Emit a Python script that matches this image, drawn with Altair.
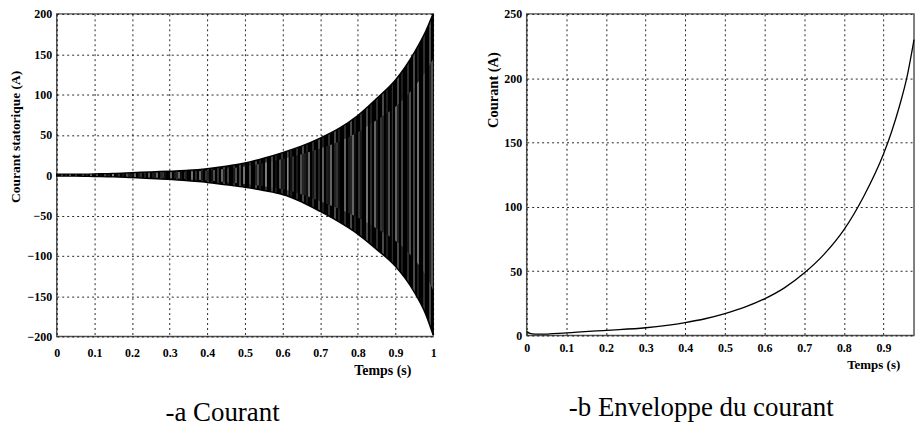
import altair as alt
import pandas as pd

# ---- Panel a: stator current (envelope of the dense oscillation)
t_a = [0.0, 0.05, 0.1, 0.15, 0.2, 0.25, 0.3, 0.35, 0.4, 0.45, 0.5, 0.55,
       0.6, 0.65, 0.7, 0.75, 0.8, 0.85, 0.9, 0.95, 0.98, 1.0]
upper_a = [1, 1, 1.5, 2, 3, 4, 5, 6, 8, 11, 15, 21,
           28, 36, 46, 58, 74, 95, 118, 152, 178, 200]
lower_a = [-1, -1, -1.5, -2, -3, -4, -5, -7, -9, -12, -15, -19,
           -24, -33, -45, -58, -73, -92, -113, -145, -172, -198]

# ---- Panel b: current envelope
t_b = [0.0, 0.01, 0.03, 0.1, 0.2, 0.3, 0.4, 0.45, 0.5, 0.55, 0.6, 0.65,
       0.7, 0.75, 0.8, 0.85, 0.9, 0.92, 0.94, 0.96, 0.977]
env_b = [3, 1.5, 1, 2, 4, 6, 10, 13, 17, 22, 28.5, 37,
         48.5, 63, 82, 108, 141, 158, 178, 202, 230]

ticks_xa = [0, 0.1, 0.2, 0.3, 0.4, 0.5, 0.6, 0.7, 0.8, 0.9, 1.0]
ticks_xb = [0, 0.1, 0.2, 0.3, 0.4, 0.5, 0.6, 0.7, 0.8, 0.9]
ticks_ya = [-200, -150, -100, -50, 0, 50, 100, 150, 200]
ticks_yb = [0, 50, 100, 150, 200, 250]

SERIF = "Liberation Serif, Times New Roman, serif"
ax = dict(labelFont=SERIF, labelFontWeight="bold", labelFontSize=12,
          labelColor="black", labelOverlap=False, labelFlush=False,
          titleFont=SERIF, titleFontWeight="bold", titleColor="black",
          grid=True, gridColor="black", gridDash=[2, 3], gridWidth=1,
          gridOpacity=0.85, domain=False, ticks=False)


def stripes(n, colors):
    """Vertical stripe texture (style only) for the dense oscillation band."""
    stops = []
    k = len(colors)
    for i in range(n):
        c = colors[i % k]
        a = i / n
        b = (i + 1) / n
        stops += [alt.GradientStop(offset=a, color=c),
                  alt.GradientStop(offset=b - 0.00005, color=c)]
    return alt.LinearGradient(gradient="linear", stops=stops,
                              x1=0, x2=1, y1=0, y2=0)


outer_cols = ["#000000", "#2e2e2e", "#000000", "#000000", "#484848",
              "#000000", "#1e1e1e", "#000000"]
inner_cols = ["#000000", "#000000", "#9a9a9a", "#000000", "#3a3a3a",
              "#000000", "#c8c8c8", "#000000", "#000000", "#666666",
              "#000000"]

dfa = pd.DataFrame({"t": t_a, "hi": upper_a, "lo": lower_a})
dfb = pd.DataFrame({"t": t_b, "env": env_b})

xa_scale = alt.Scale(domain=[0, 1], nice=False)
xa_axis = alt.Axis(values=ticks_xa, format="~g", title="Temps (s)",
                   titleFontSize=14, titleX=327, titleY=34,
                   titleAlign="center", titleBaseline="middle",
                   labelPadding=11, **ax)
ya_scale = alt.Scale(domain=[-200, 200], nice=False)
ya_axis = alt.Axis(values=ticks_ya, title="Courant statorique (A)",
                   titleFontSize=13.5, titleX=-41, titleY=123, titleAngle=270,
                   titleAlign="center", titleBaseline="middle",
                   labelPadding=5, **ax)

band = alt.Chart(dfa).mark_area(
    fill=stripes(190, outer_cols), stroke="black", strokeWidth=1.5,
    interpolate="monotone"
).encode(x=alt.X("t:Q", scale=xa_scale, axis=xa_axis),
         y=alt.Y("lo:Q", scale=ya_scale, axis=ya_axis), y2="hi:Q")

inner = alt.Chart(dfa).transform_calculate(
    ih="datum.hi * 0.72", il="datum.lo * 0.72"
).mark_area(
    fill=stripes(190, inner_cols), opacity=0.5, interpolate="monotone"
).encode(x=alt.X("t:Q", scale=xa_scale, axis=xa_axis),
         y=alt.Y("il:Q", scale=ya_scale, axis=ya_axis), y2="ih:Q")

left = alt.layer(band, inner).properties(
    width=378, height=324,
    title=alt.TitleParams("-a Courant", orient="bottom", anchor="middle",
                          frame="bounds", font=SERIF, fontSize=27,
                          fontWeight="normal", color="black", offset=23),
)

right = alt.Chart(dfb).mark_line(
    color="black", strokeWidth=1.3, interpolate="monotone"
).encode(
    x=alt.X("t:Q", scale=alt.Scale(domain=[0, 0.977], nice=False),
            axis=alt.Axis(values=ticks_xb, format="~g", title="Temps (s)",
                          titleFontSize=13, titleX=348, titleY=29,
                          titleAlign="center", titleBaseline="middle",
                          labelPadding=7, **ax)),
    y=alt.Y("env:Q", scale=alt.Scale(domain=[0, 250], nice=False),
            axis=alt.Axis(values=ticks_yb, title="Courant (A)",
                          titleFontSize=14.5, titleX=-33, titleY=76,
                          titleAngle=270, titleAlign="center",
                          titleBaseline="middle", labelPadding=5, **ax)),
).properties(
    width=389, height=323,
    title=alt.TitleParams("-b Enveloppe du courant", orient="bottom",
                          anchor="middle", frame="bounds", font=SERIF,
                          fontSize=27, fontWeight="normal", color="black",
                          offset=24),
)

chart = alt.hconcat(left, right, spacing=94, bounds="flush").properties(
    padding={"left": 8, "top": 6, "right": 0, "bottom": 0},
    background="white",
).configure_view(stroke="#555555", strokeWidth=1.5)

chart.save("out.html", embed_options={"renderer": "svg", "actions": False})
